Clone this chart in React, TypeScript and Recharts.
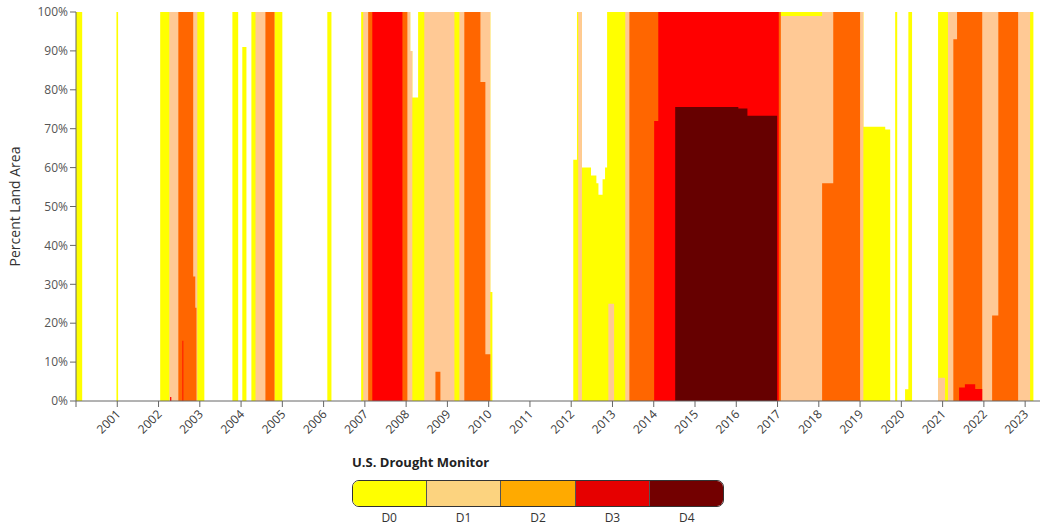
import React from "react";
import { Area, AreaChart, XAxis, YAxis } from "recharts";

// change points: [year, percent of land area] — value holds until the next point
const D0_CHANGES: [number, number][] = [
  [2000.0, 100], [2000.15, 0], [2000.98, 100], [2001.02, 0],
  [2002.04, 100], [2003.11, 0], [2003.79, 100], [2003.93, 0],
  [2004.03, 91], [2004.13, 0], [2004.25, 100], [2005.0, 0],
  [2006.09, 100], [2006.19, 0], [2006.91, 100], [2008.1, 90],
  [2008.15, 78], [2008.29, 100], [2010.04, 28], [2010.09, 0],
  [2012.05, 62], [2012.14, 100], [2012.26, 60], [2012.48, 58],
  [2012.61, 56], [2012.66, 53], [2012.76, 57], [2012.82, 60],
  [2012.87, 100], [2019.08, 70.5], [2019.61, 69.8], [2019.73, 0],
  [2019.85, 100], [2019.9, 0], [2020.09, 3], [2020.17, 100],
  [2020.26, 0], [2020.89, 100],
];

const D1_CHANGES: [number, number][] = [
  [2000.0, 0], [2002.26, 100], [2002.94, 0], [2004.35, 100], [2004.81, 0],
  [2006.96, 100], [2008.1, 90], [2008.15, 0], [2008.44, 100], [2009.17, 0],
  [2009.29, 100], [2010.04, 0], [2012.17, 100], [2012.26, 0], [2012.9, 25],
  [2013.04, 0], [2013.31, 100], [2017.08, 99], [2018.08, 100], [2019.08, 0],
  [2020.89, 6], [2021.06, 0], [2021.13, 100], [2023.12, 0],
];

const D2_CHANGES: [number, number][] = [
  [2000.0, 0], [2002.48, 100], [2002.84, 32], [2002.89, 24], [2002.92, 0],
  [2004.59, 100], [2004.81, 0], [2007.08, 100], [2008.03, 0], [2008.71, 7.5],
  [2008.83, 0], [2009.41, 100], [2009.8, 82], [2009.92, 12], [2010.04, 0],
  [2013.41, 100], [2017.08, 0], [2018.08, 56], [2018.35, 100], [2019.0, 0],
  [2021.26, 93], [2021.35, 100], [2021.96, 0], [2022.2, 22], [2022.35, 100],
  [2022.83, 0],
];

const D3_CHANGES: [number, number][] = [
  [2000.0, 0], [2002.28, 1], [2002.31, 0], [2002.58, 15.5], [2002.6, 0],
  [2007.18, 100], [2007.91, 0], [2014.01, 72], [2014.11, 100], [2017.03, 0],
  [2021.4, 3.5], [2021.54, 4.3], [2021.79, 3.1], [2021.96, 0],
];

const D4_CHANGES: [number, number][] = [
  [2000.0, 0], [2014.52, 75.6], [2016.05, 75.2], [2016.27, 73.3], [2016.99, 0],
];

const LAST_WEEK = 2023.2;

const YEAR_TICKS = [
  2000, 2001, 2002, 2003, 2004, 2005, 2006, 2007, 2008, 2009, 2010, 2011,
  2012, 2013, 2014, 2015, 2016, 2017, 2018, 2019, 2020, 2021, 2022, 2023,
];
const PCT_TICKS = [0, 10, 20, 30, 40, 50, 60, 70, 80, 90, 100];

const SERIES = [
  { key: "d0", label: "D0", changes: D0_CHANGES, fill: "#ffff00", legend: "#ffff00" },
  { key: "d1", label: "D1", changes: D1_CHANGES, fill: "#ffc995", legend: "#fcd37f" },
  { key: "d2", label: "D2", changes: D2_CHANGES, fill: "#ff6600", legend: "#ffaa00" },
  { key: "d3", label: "D3", changes: D3_CHANGES, fill: "#ff0000", legend: "#e60000" },
  { key: "d4", label: "D4", changes: D4_CHANGES, fill: "#660000", legend: "#730000" },
];

function valueAt(changes: [number, number][], t: number) {
  let v = 0;
  for (const [year, pct] of changes) {
    if (year <= t + 1e-9) v = pct;
    else break;
  }
  return v;
}

function buildRows() {
  const times = new Set<number>([LAST_WEEK]);
  SERIES.forEach((s) => s.changes.forEach(([t]) => times.add(t)));
  return Array.from(times)
    .sort((a, b) => a - b)
    .map((t) => {
      const row: Record<string, number> = { year: t };
      SERIES.forEach((s) => {
        row[s.key] = valueAt(s.changes, t);
      });
      return row;
    });
}

const rows = buildRows();

const YearTick = (props: any) => {
  const { x, y, payload } = props;
  if (payload.value === 2000) return <g />;
  return (
    <g transform={`translate(${x + 4},${y + 6})`}>
      <text
        x={0}
        y={0}
        textAnchor="end"
        transform="rotate(-45)"
        fontSize={12}
        fill="#3a3a3a"
      >
        {payload.value}
      </text>
    </g>
  );
};

export default function App() {
  return (
    <div
      style={{
        position: "absolute",
        left: 0,
        top: 0,
        width: 1044,
        height: 527,
        background: "#fff",
        fontFamily: '"Open Sans", sans-serif',
      }}
    >
      <AreaChart
        width={1044}
        height={450}
        data={rows}
        margin={{ top: 12, right: 4, left: 0, bottom: 0 }}
      >
        <XAxis
          dataKey="year"
          type="number"
          domain={[2000, 2023.36]}
          ticks={YEAR_TICKS}
          interval={0}
          allowDataOverflow
          height={49}
          tick={<YearTick />}
          tickSize={6}
          axisLine={{ stroke: "#666" }}
          tickLine={{ stroke: "#666" }}
        />
        <YAxis
          domain={[0, 100]}
          ticks={PCT_TICKS}
          interval={0}
          width={76}
          tickSize={6}
          tickFormatter={(v) => `${v}%`}
          tick={{ fontSize: 12, fill: "#555" }}
          axisLine={{ stroke: "#666" }}
          tickLine={{ stroke: "#666" }}
          label={{
            value: "Percent Land Area",
            angle: -90,
            position: "insideLeft",
            offset: 15,
            style: { textAnchor: "middle", fontSize: 14, fill: "#333" },
          }}
        />
        {SERIES.map((s) => (
          <Area
            key={s.key}
            name={s.label}
            type="stepAfter"
            dataKey={s.key}
            fill={s.fill}
            fillOpacity={1}
            stroke="none"
            isAnimationActive={false}
          />
        ))}
      </AreaChart>

      <div style={{ position: "absolute", left: 352, top: 454, width: 372 }}>
        <div style={{ fontSize: 13, fontWeight: 700, color: "#222", lineHeight: "16px" }}>
          U.S. Drought Monitor
        </div>
        <div
          style={{
            marginTop: 10,
            display: "flex",
            height: 25,
            border: "1px solid #333",
            borderRadius: 7,
            overflow: "hidden",
          }}
        >
          {SERIES.map((s, i) => (
            <div
              key={s.key}
              style={{
                flex: 1,
                background: s.legend,
                borderRight: i < SERIES.length - 1 ? "1px solid #555" : "none",
              }}
            />
          ))}
        </div>
        <div style={{ display: "flex", marginTop: 4 }}>
          {SERIES.map((s) => (
            <div
              key={s.key}
              style={{ flex: 1, textAlign: "center", fontSize: 12, color: "#333", lineHeight: "14px" }}
            >
              {s.label}
            </div>
          ))}
        </div>
      </div>
    </div>
  );
}
